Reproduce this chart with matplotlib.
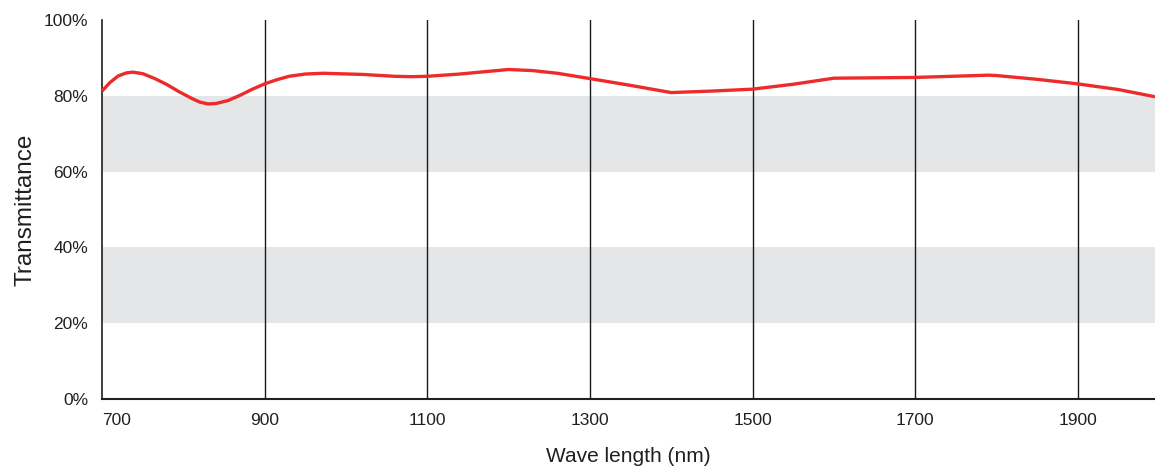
import matplotlib
matplotlib.use("Agg")
import matplotlib.pyplot as plt

wavelength = [700, 710, 720, 730, 738, 750, 765, 780, 795, 810, 820, 830, 840, 855,
              870, 885, 900, 915, 930, 950, 972, 1020, 1060, 1080, 1100, 1140, 1175,
              1200, 1230, 1260, 1300, 1350, 1400, 1450, 1500, 1550, 1600, 1700, 1790,
              1800, 1850, 1900, 1950, 1995]
transmittance = [81.3, 83.6, 85.3, 86.1, 86.3, 85.9, 84.6, 83.0, 81.1, 79.4, 78.4, 77.9,
                 78.0, 78.8, 80.2, 81.8, 83.2, 84.3, 85.2, 85.8, 86.0, 85.7, 85.2, 85.1,
                 85.2, 85.8, 86.5, 87.0, 86.7, 86.0, 84.6, 82.8, 80.9, 81.3, 81.8, 83.1,
                 84.7, 84.9, 85.5, 85.4, 84.4, 83.2, 81.7, 79.8]

xticks = [700, 900, 1100, 1300, 1500, 1700, 1900]
yticks = [0, 20, 40, 60, 80, 100]
bands = [(20, 40), (60, 80)]

text_color = "#231F20"
plt.rcParams['font.family'] = ['Liberation Sans', 'DejaVu Sans']

fig = plt.figure(figsize=(11.55, 4.66), dpi=100)
ax = fig.add_axes([102/1155, 1 - 398.7/466, 1 - 102/1155, (398.7 - 20.3)/466])

for lo, hi in bands:
    ax.axhspan(lo, hi, color="#E5E6E8", lw=0, zorder=0)

for x in xticks[1:]:
    ax.axvline(x, color="#1a1a1a", lw=1.0, zorder=1)

ax.plot(wavelength, transmittance, color="#EE2B2B", lw=2.4, zorder=3,
        solid_capstyle="butt", solid_joinstyle="round", clip_on=False)

ax.set_xlim(700, 1995)
ax.set_ylim(0, 100)

for s in ["top", "right"]:
    ax.spines[s].set_visible(False)
ax.spines["left"].set_linewidth(1.2)
ax.spines["bottom"].set_linewidth(1.5)
ax.spines["left"].set_color(text_color)
ax.spines["bottom"].set_color(text_color)

ax.set_xticks(xticks)
ax.set_xticklabels([str(v) for v in xticks])
ax.set_yticks(yticks)
ax.set_yticklabels([f"{v}%" for v in yticks])
ax.tick_params(axis="both", length=0, labelsize=12.5, colors=text_color)
ax.tick_params(axis="x", pad=10)
ax.tick_params(axis="y", pad=10)
ax.get_xticklabels()[0].set_horizontalalignment("left")

ax.set_xlabel("Wave length (nm)", fontsize=15, color=text_color, labelpad=14)
ax.set_ylabel("Transmittance", fontsize=17.5, color=text_color, labelpad=5)

fig.savefig("out.png", dpi=100)
